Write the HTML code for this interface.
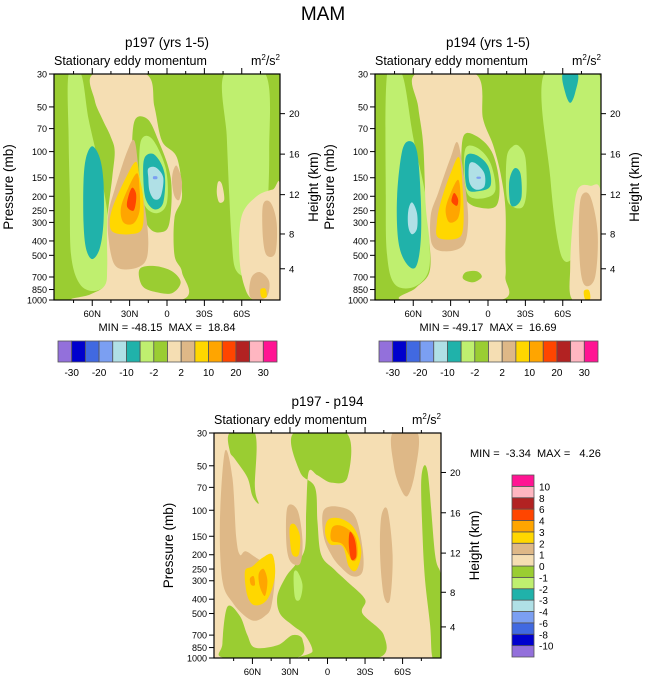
<!DOCTYPE html>
<html><head><meta charset="utf-8"><style>
body{margin:0;background:#fff;}
svg{display:block;font-family:"Liberation Sans",sans-serif;}
text{white-space:pre;}
</style></head><body>
<svg id="root" width="647" height="683" viewBox="0 0 647 683" xmlns="http://www.w3.org/2000/svg">
<text x="323" y="20" font-size="19" text-anchor="middle">MAM</text>
</svg>
<script>
// ---------- data ----------
const presTicks = [30,50,70,100,150,200,250,300,400,500,700,850,1000];
const latTicks = [60,30,0,-30,-60];
const latLabels = ["60N","30N","0","30S","60S"];
const heightKm = [4,8,12,16,20];
const heightP = [616,359,195,104,55.5];
const levelsAbs = [-30,-25,-20,-15,-10,-5,-2,0,2,5,10,15,20,25,30];
const levelsAbsLabels = ["-30","","-20","","-10","","-2","","2","","10","","20","","30"];
const levelsDiff = [-10,-8,-6,-4,-3,-2,-1,0,1,2,3,4,6,8,10];
const levelsDiffLabels = ["-10","-8","-6","-4","-3","-2","-1","0","1","2","3","4","6","8","10"];
const colors = ["#9370DB","#0000CD","#4169E1","#7B9FF2","#B0E0E6","#20B2AA","#BFEF6F","#9ACD32","#F5DEB3","#DEB887","#FFD700","#FFA500","#FF4500","#B22222","#FFB6C1","#FF1493"];
// contour regions: [colorIndex, [[lat,p],...]]
const field1 = [
 [6,[[79,30],[69,30],[63,60],[55,120],[48,250],[45,500],[47,750],[58,870],[70,780],[77,500],[78,200],[79,80]]],
 [8,[[59,30],[17,30],[10,50],[4,85],[-8,110],[-12,200],[-6,280],[-6,500],[-12,650],[-11,1000],[73,1000],[62,920],[50,800],[48,600],[48,300],[44,150],[42,100],[45,80],[52,60],[58,45]]],
 [5,[[60,92],[54,110],[51,160],[51,300],[54,450],[60,530],[65,450],[67,300],[67,160],[65,110]]],
 [7,[[26,62],[16,60],[8,80],[-3,150],[-2,300],[5,350],[15,320],[25,200],[28,110]]],
 [7,[[22,620],[10,590],[-4,640],[-11,760],[-4,900],[10,880],[20,800]]],
 [6,[[21,85],[12,82],[1,130],[0,220],[8,260],[18,230],[22,150]]],
 [5,[[18,110],[10,105],[2,140],[3,220],[10,245],[17,210],[19,150]]],
 [4,[[15,130],[9,128],[3,150],[5,200],[10,210],[14,185],[15,150]]],
 [3,[[11,147],[8,147],[8,153],[11,153]]],
 [9,[[26,85],[32,100],[42,180],[47,260],[47,380],[42,580],[30,620],[18,560],[15,420],[17,260],[22,150]]],
 [10,[[25,117],[33,150],[43,230],[46,300],[43,350],[30,360],[20,330],[19,210],[22,150]]],
 [11,[[24,140],[31,175],[37,240],[35,300],[27,305],[22,250],[22,180]]],
 [12,[[28,175],[31,200],[32,235],[27,250],[25,220],[25,190]]],
 [9,[[-5,135],[-8,125],[-12,160],[-10,210],[-6,200],[-4,160]]],
 [8,[[-41,160],[-44,165],[-46,210],[-42,220],[-40,190]]],
 [6,[[-46,30],[-79,30],[-82,100],[-80,300],[-76,550],[-65,690],[-55,620],[-52,400],[-50,200],[-48,80]]],
 [8,[[-60,270],[-72,200],[-85,180],[-91,180],[-91,1000],[-70,1000],[-62,800],[-58,500]]],
 [9,[[-77,230],[-83,220],[-88,300],[-87,480],[-80,500],[-77,380]]],
 [9,[[-68,700],[-75,650],[-82,750],[-80,950],[-70,1000],[-66,900]]],
 [10,[[-75,850],[-79,840],[-80,950],[-76,960]]]
];
const field2 = [
 [6,[[81,30],[69,30],[60,80],[50,200],[47,400],[48,650],[60,820],[75,780],[81,500],[82,200]]],
 [5,[[63,85],[57,100],[54,200],[54,400],[58,600],[66,560],[72,400],[73,200],[69,100]]],
 [4,[[61,220],[57,260],[57,330],[61,360],[64,320],[64,250]]],
 [8,[[58,30],[10,30],[4,60],[-4,90],[-10,140],[-14,240],[-14,500],[-14,700],[-10,1000],[68,1000],[58,830],[47,650],[47,400],[50,230],[52,90],[56,50]]],
 [7,[[20,80],[10,78],[-3,100],[-9,160],[-7,230],[5,240],[17,215],[21,150]]],
 [6,[[18,95],[8,95],[-2,120],[-6,180],[2,205],[15,200],[19,150]]],
 [5,[[18,110],[10,105],[0,125],[-2,170],[8,185],[17,175]]],
 [4,[[15,122],[10,120],[3,140],[3,172],[10,180],[15,160]]],
 [3,[[9,148],[6,148],[6,152],[9,152]]],
 [6,[[-20,92],[-15,110],[-15,200],[-20,235],[-28,235],[-31,180],[-30,110],[-25,92]]],
 [5,[[-21,130],[-17,160],[-18,225],[-23,230],[-27,200],[-26,140]]],
 [9,[[24,88],[30,110],[40,190],[46,270],[45,420],[35,470],[20,430],[16,300],[18,180]]],
 [10,[[23,110],[30,140],[38,220],[41,300],[40,380],[25,385],[20,330],[20,200]]],
 [11,[[24,155],[31,200],[34,250],[31,300],[24,280],[22,210]]],
 [12,[[27,190],[29,205],[29,220],[25,232],[24,210]]],
 [7,[[18,650],[9,640],[5,700],[12,760],[20,720]]],
 [6,[[-45,30],[-89,30],[-91,200],[-88,450],[-72,500],[-62,550],[-56,400],[-50,150]]],
 [5,[[-60,30],[-72,30],[-70,40],[-66,47],[-62,40]]],
 [8,[[-72,180],[-82,170],[-91,200],[-91,1000],[-68,1000],[-66,600],[-68,300]]],
 [9,[[-75,200],[-82,200],[-88,350],[-86,700],[-78,800],[-74,600],[-73,300]]],
 [10,[[-77,870],[-81,860],[-82,980],[-78,990]]]
];
const fieldD = [
 [7,[[78,30],[58,30],[58,70],[55,90],[60,80],[64,60],[74,45],[78,40]]],
 [7,[[27,30],[-15,30],[-16,60],[-3,65],[8,58],[15,55],[17,100],[18,180],[25,230],[33,280],[40,380],[38,500],[28,600],[18,700],[12,900],[20,1000],[-40,1000],[-45,700],[-28,500],[-30,400],[-15,300],[-5,250],[5,200],[8,120],[10,70],[22,55]]],
 [7,[[80,450],[70,520],[64,700],[58,850],[40,820],[28,700],[20,750],[25,1000],[82,1000],[84,800]]],
 [7,[[-75,60],[-80,55],[-86,200],[-91,300],[-91,1000],[-84,1000],[-82,600],[-78,300],[-76,150]]],
 [6,[[27,270],[24,260],[20,320],[22,400],[26,390]]],
 [9,[[82,40],[76,60],[73,150],[70,200],[65,190],[52,220],[44,200],[42,280],[45,450],[50,520],[58,560],[66,520],[76,420],[84,300],[86,120]]],
 [9,[[32,95],[24,100],[20,160],[22,230],[30,220],[33,160]]],
 [9,[[3,100],[-10,95],[-22,110],[-28,180],[-28,260],[-20,280],[-10,240],[-3,200],[3,150]]],
 [9,[[-43,110],[-48,100],[-52,200],[-50,400],[-45,380],[-42,200]]],
 [9,[[-52,30],[-72,30],[-70,55],[-64,80],[-58,70],[-53,50]]],
 [10,[[44,200],[52,210],[60,240],[66,260],[64,380],[58,440],[48,400],[42,280]]],
 [11,[[51,250],[55,270],[54,330],[50,380],[48,300]]],
 [11,[[59,280],[62,290],[61,320],[58,320]]],
 [10,[[30,128],[26,125],[22,150],[23,200],[28,200],[30,160]]],
 [10,[[-1,115],[-12,115],[-22,135],[-27,190],[-23,255],[-17,240],[-12,175],[-2,170],[2,140]]],
 [11,[[-4,130],[-12,128],[-22,150],[-24,200],[-20,220],[-12,170],[-3,160]]],
 [12,[[-18,140],[-22,160],[-23,205],[-19,215],[-17,170]]]
];

// ---------- drawing ----------
const NS="http://www.w3.org/2000/svg";
const root=document.getElementById('root');
function mk(tag,attrs,parent){const e=document.createElementNS(NS,tag);for(const k in attrs)e.setAttribute(k,attrs[k]);(parent||root).appendChild(e);return e;}
function smoothPath(pts){
  const n=pts.length;let d="M"+pts[0][0].toFixed(1)+","+pts[0][1].toFixed(1);
  for(let i=0;i<n;i++){const p0=pts[(i-1+n)%n],p1=pts[i],p2=pts[(i+1)%n],p3=pts[(i+2)%n];
    const c1=[p1[0]+(p2[0]-p0[0])/6,p1[1]+(p2[1]-p0[1])/6],c2=[p2[0]-(p3[0]-p1[0])/6,p2[1]-(p3[1]-p1[1])/6];
    d+="C"+c1[0].toFixed(1)+","+c1[1].toFixed(1)+" "+c2[0].toFixed(1)+","+c2[1].toFixed(1)+" "+p2[0].toFixed(1)+","+p2[1].toFixed(1);}
  return d+"Z";}
function panel(id,x0,y0,w,h,bg,field,title){
  const g=mk('g',{});
  
  
  const xs=lat=>x0+(90.7-lat)/181.4*w;
  const ys=p=>y0+h*Math.log(p/30)/Math.log(1000/30);
  const cp=mk('clipPath',{id:id+'-clip'},g);mk('rect',{x:x0,y:y0,width:w,height:h},cp);
  const fg=mk('g',{'clip-path':'url(#'+id+'-clip)'},g);
  const bgr=mk('rect',{x:x0,y:y0,width:w,height:h,fill:bg},fg);
  
  
  field.forEach(r=>{const pts=r[1].map(q=>[xs(q[0]),ys(q[1])]);
    const e=mk('path',{d:smoothPath(pts),fill:colors[r[0]]},fg);
    
    });
  mk('rect',{x:x0,y:y0,width:w,height:h,fill:'none',stroke:'#000','stroke-width':1.2},g);
  presTicks.forEach(p=>{const y=ys(p);mk('line',{x1:x0-5,x2:x0,y1:y,y2:y,stroke:'#000'},g);
    const t=mk('text',{x:x0-7,y:y+3.5,'font-size':9,'text-anchor':'end'},g);t.textContent=p;
    
    });
  for(let l=75;l>=-75;l-=15){const x=xs(l),major=l%30===0;
    mk('line',{x1:x,x2:x,y1:y0,y2:y0+(major?-6:-3),stroke:'#000'},g);
    mk('line',{x1:x,x2:x,y1:y0+h,y2:y0+h+(major?6:3),stroke:'#000'},g);}
  latTicks.forEach((l,i)=>{const t=mk('text',{x:xs(l),y:y0+h+17,'font-size':9.5,'text-anchor':'middle'},g);t.textContent=latLabels[i];
    
    });
  heightKm.forEach((k,i)=>{const y=ys(heightP[i]);mk('line',{x1:x0+w,x2:x0+w+5,y1:y,y2:y,stroke:'#000'},g);
    const t=mk('text',{x:x0+w+9,y:y+3.5,'font-size':9.5},g);t.textContent=k;
    
    });
  let t=mk('text',{x:x0+w/2,y:y0-27,'font-size':13.5,'text-anchor':'middle'},g);t.textContent=title;
  
  
  t=mk('text',{x:x0,y:y0-9,'font-size':12.5},g);t.textContent='Stationary eddy momentum';
  
  
  t=mk('text',{x:x0+w,y:y0-9,'font-size':12.5,'text-anchor':'end'},g);
  t.innerHTML='m<tspan font-size="8" dy="-5">2</tspan><tspan dy="5">/s</tspan><tspan font-size="8" dy="-5">2</tspan>';
  
  
  t=mk('text',{transform:`translate(${x0-41},${y0+h/2}) rotate(-90)`,'font-size':13.5,'text-anchor':'middle'},g);t.textContent='Pressure (mb)';
  
  
  t=mk('text',{transform:`translate(${x0+w+38},${y0+h/2}) rotate(-90)`,'font-size':13.5,'text-anchor':'middle'},g);t.textContent='Height (km)';
  
  
  return g;}

function hbar(x0,y0,w,h,labels){
  const g=mk('g',{});
  
  
  const bw=w/colors.length;
  colors.forEach((c,i)=>{const r=mk('rect',{x:x0+i*bw,y:y0,width:bw,height:h,fill:c,stroke:'#555','stroke-width':0.8},g);
    
    });
  labels.forEach((s,i)=>{if(!s)return;const t=mk('text',{x:x0+(i+1)*bw,y:y0+h+14,'font-size':10,'text-anchor':'middle'},g);t.textContent=s;
    
    });}
function vbar(x0,y0,w,h,labels){
  const g=mk('g',{});
  
  
  const bh=h/colors.length;
  colors.forEach((c,i)=>{const r=mk('rect',{x:x0,y:y0+h-(i+1)*bh,width:w,height:bh,fill:c,stroke:'#555','stroke-width':0.8},g);
    
    });
  labels.forEach((s,i)=>{const t=mk('text',{x:x0+w+5,y:y0+h-(i+1)*bh+4,'font-size':10},g);t.textContent=s;
    
    });}

panel('p197',54,74,226,226,'#9ACD32',field1,'p197 (yrs 1-5)');
panel('p194',375,74,226,226,'#9ACD32',field2,'p194 (yrs 1-5)');
panel('diff',214,433,227,225,'#F5DEB3',fieldD,'p197 - p194');
function txt(x,y,s,name,anchor){const t=mk('text',{x:x,y:y,'font-size':11,'text-anchor':anchor||'middle'});t.textContent=s;
  
  }
txt(167,331,'MIN = -48.15  MAX =  18.84','stats-p197');
txt(488,331,'MIN = -49.17  MAX =  16.69','stats-p194');
txt(470,457,'MIN =  -3.34  MAX =   4.26','stats-diff','start');
hbar(58,341,219,21,levelsAbsLabels);
hbar(379,341,219,21,levelsAbsLabels);
vbar(512,475,22,182,levelsDiffLabels);
</script>
</body></html>
